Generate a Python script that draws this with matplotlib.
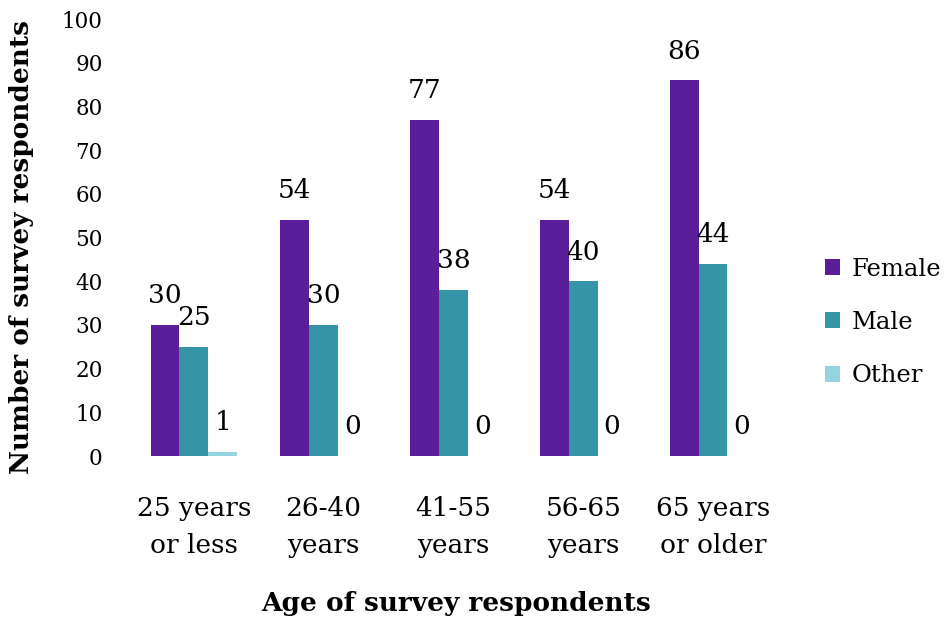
import matplotlib
matplotlib.use('Agg')
import matplotlib.pyplot as plt
import numpy as np

plt.rcParams['font.family'] = 'DejaVu Serif'

# survey counts by age group
categories = ['25 years\nor less', '26-40\nyears', '41-55\nyears', '56-65\nyears', '65 years\nor older']
female = [30, 54, 77, 54, 86]
male = [25, 30, 38, 40, 44]
other = [1, 0, 0, 0, 0]

series = [('Female', female, '#5A1E9B'),
          ('Male', male, '#3595A6'),
          ('Other', other, '#93D4E0')]

fig = plt.figure(figsize=(9.51, 6.20), dpi=100)
ax = fig.add_axes([0.1356, 0.2645, 0.6824, 0.7045])

x = np.arange(len(categories))
w = 1 / 4.5  # excel gap width 150%

for i, (name, vals, col) in enumerate(series):
    bars = ax.bar(x + (i - 1) * w, vals, w, color=col, label=name)
    for b, v in zip(bars, vals):
        ax.annotate(str(v), xy=(b.get_x() + b.get_width() / 2, v),
                    xytext=(0, 21), textcoords='offset points',
                    ha='center', va='center', fontsize=19)

ax.set_xlim(-0.5, len(categories) - 0.5)
ax.set_ylim(0, 100)
ax.set_yticks(range(0, 101, 10))
ax.set_xticks(x)
ax.set_xticklabels(categories, fontsize=19, linespacing=1.62)
ax.tick_params(axis='y', labelsize=15.5, length=0, pad=19)
ax.tick_params(axis='x', length=0, pad=28.5)
for s in ax.spines.values():
    s.set_visible(False)

fig.text(0.0231, 0.601, 'Number of survey respondents', rotation=90,
         ha='center', va='center', fontsize=19, fontweight='bold')
fig.text(0.4795, 0.0274, 'Age of survey respondents',
         ha='center', va='center', fontsize=19, fontweight='bold')

fig.legend(loc='center left', bbox_to_anchor=(0.867, 0.48), frameon=False,
           fontsize=17.5, handlelength=0.65, handleheight=0.65,
           handletextpad=0.45, labelspacing=1.25, borderpad=0,
           borderaxespad=0)

fig.savefig('out.png', dpi=100)
